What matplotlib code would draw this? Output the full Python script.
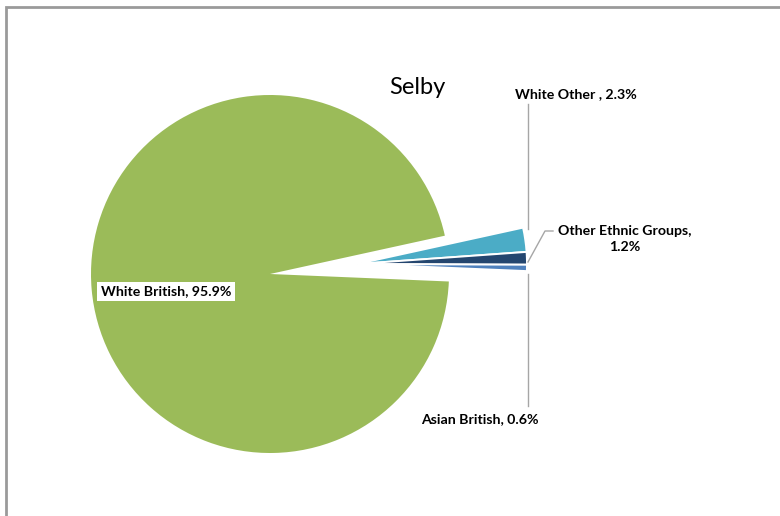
import matplotlib
matplotlib.use("Agg")
import matplotlib.pyplot as plt
from matplotlib.patches import Rectangle

# ---- data ----
categories = ["White British", "White Other ", "Other Ethnic Groups", "Asian British"]
values = [95.9, 2.3, 1.2, 0.6]
label_texts = ["White British, 95.9%", "White Other , 2.3%",
               "Other Ethnic Groups,\n1.2%", "Asian British, 0.6%"]
title = "Selby"

colors = ["#9BBB59", "#4BACC6", "#24466F", "#4F81BD"]

W, H = 780, 516
fig = plt.figure(figsize=(W / 100, H / 100), dpi=100)
ax = fig.add_axes([0, 0, 1, 1])

def py(y):
    return H - y

start = -2.4
# main pie (only the large slice shown)
w1, _ = ax.pie(values, colors=colors, startangle=start, counterclock=False,
               radius=179, center=(270, py(274)),
               wedgeprops=dict(edgecolor="none", linewidth=0))
for w in w1[1:]:
    w.set_visible(False)

# exploded small slices
w2, _ = ax.pie(values, colors=colors, startangle=start, counterclock=False,
               radius=170, center=(357, py(264)),
               wedgeprops=dict(edgecolor="white", linewidth=1.4))
w2[0].set_visible(False)

ax.set_xlim(0, W)
ax.set_ylim(0, H)
ax.set_aspect("equal")
ax.axis("off")

font = "Lato"
lc = "#A6A6A6"

# title
ax.text(417, py(87), title, ha="center", va="center", fontsize=17,
        family=font, color="#000000")

# leader lines
ax.plot([527.5, 527.5], [py(104), py(229)], color=lc, lw=1)
ax.plot([553, 545, 528], [py(231), py(231), py(262)], color=lc, lw=1)
ax.plot([528, 528], [py(274), py(406)], color=lc, lw=1)

fs = 10.2
# labels
ax.text(101, py(291.5), label_texts[0], ha="left", va="center", fontsize=fs,
        fontweight="bold", family=font, color="#000000",
        bbox=dict(facecolor="white", edgecolor="none", pad=2.5))
ax.text(576, py(94), label_texts[1], ha="center", va="center", fontsize=fs,
        fontweight="bold", family=font, color="#000000")
ax.text(625, py(239), label_texts[2], ha="center", va="center", fontsize=fs,
        fontweight="bold", family=font, color="#000000", linespacing=1.35)
ax.text(480, py(419), label_texts[3], ha="center", va="center", fontsize=fs,
        fontweight="bold", family=font, color="#000000")

# chart border
fig.patches.append(Rectangle((6 / W, -0.1), 1.2, (H - 7) / H + 0.1,
                             transform=fig.transFigure, fill=False,
                             edgecolor="#9A9A9A", linewidth=2))

fig.savefig("out.png", dpi=100)
